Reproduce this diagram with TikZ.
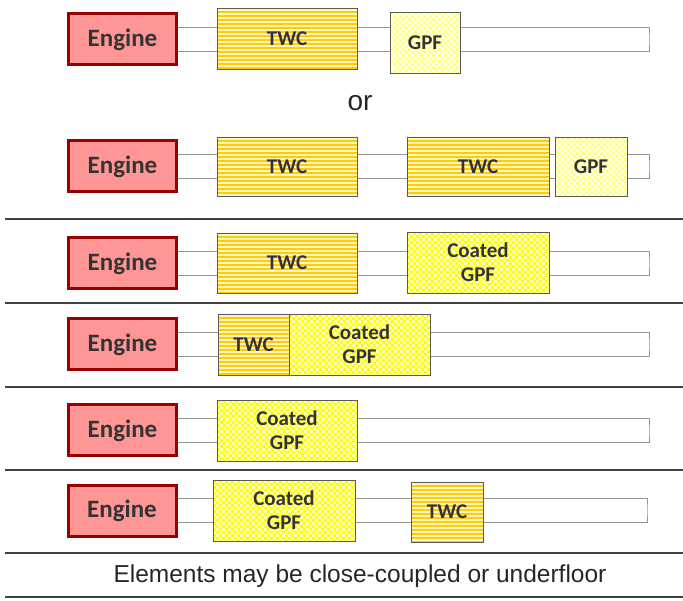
\documentclass[tikz,border=0pt]{standalone}
\usepackage{fontspec}
\setmainfont{Carlito}
\newfontfamily\arialfont{Liberation Sans}
\usetikzlibrary{backgrounds}

\definecolor{engfill}{RGB}{255,150,150}
\definecolor{engline}{RGB}{153,0,0}
\definecolor{twcfill}{RGB}{255,204,0}
\definecolor{twcstripe}{RGB}{255,244,195}
\definecolor{gpfcheck}{RGB}{255,255,140}
\definecolor{gpfbase}{RGB}{255,255,235}
\definecolor{cgpfcheck}{RGB}{255,255,0}
\definecolor{cgpfbase}{RGB}{255,255,185}
\definecolor{boxline}{RGB}{90,90,90}
\definecolor{pipeline}{RGB}{150,150,150}
\definecolor{labeltext}{RGB}{51,51,51}

\begin{document}
\begin{tikzpicture}[x=1pt,y=-1pt,
  every node/.style={inner sep=0pt,outer sep=0pt,align=center,text=labeltext},
  engine/.style={draw=engline,line width=3pt,fill=engfill,minimum width=108pt,minimum height=51pt,
    font=\bfseries\fontsize{25}{28}\selectfont},
  unit/.style={draw=boxline,line width=0.9pt,font=\bfseries\fontsize{21}{24}\selectfont},
  twc/.style={unit,fill=twcfill,path picture={
    \foreach \k in {1,5,...,61}
      \fill[twcstripe] ([yshift=-\k pt]path picture bounding box.north west) rectangle ++(150pt,-1.6pt);}},
  checkbox/.style 2 args={unit,fill=#2,path picture={
    \foreach \i in {0,6,...,144} \foreach \j in {0,6,...,60} {
      \fill[#1] ([xshift=\i pt,yshift=-\j pt]path picture bounding box.north west) rectangle ++(3pt,-3pt);
      \fill[#1] ([xshift=\i pt+3pt,yshift=-\j pt-3pt]path picture bounding box.north west) rectangle ++(3pt,-3pt);}}},
  gpf/.style={checkbox={gpfcheck}{gpfbase}},
  cgpf/.style={checkbox={cgpfcheck}{cgpfbase}},
  pipe/.style={draw=pipeline,line width=1pt},
  sepline/.style={draw=black!75,line width=1.8pt}]
\useasboundingbox (0,0) rectangle (683,601);

% row 1
\node[engine] (eng1) at (122.5,39.5) {Engine};
\node[twc,minimum width=140pt,minimum height=61pt] (twc1) at (287,38.5) {TWC};
\node[gpf,minimum width=70pt,minimum height=61pt] (gpf1) at (425,43) {GPF};
\coordinate (end1) at (649,39.5);
\node[font=\arialfont\fontsize{28}{30}\selectfont,text=black!85] (or) at (360,103) {or};

% row 2
\node[engine] (eng2) at (122.5,166.5) {Engine};
\node[twc,minimum width=140pt,minimum height=59pt] (twc2a) at (287,166.5) {TWC};
\node[twc,minimum width=142pt,minimum height=59pt] (twc2b) at (478,166.5) {TWC};
\node[gpf,minimum width=72pt,minimum height=59pt] (gpf2) at (591,166.5) {GPF};
\coordinate (end2) at (649,166.5);

% row 3
\node[engine] (eng3) at (122.5,263.5) {Engine};
\node[twc,minimum width=140pt,minimum height=60pt] (twc3) at (287,263) {TWC};
\node[cgpf,minimum width=142pt,minimum height=61pt] (cgpf3) at (478,262.5) {Coated\\GPF};
\coordinate (end3) at (649,262.5);

% row 4
\node[engine] (eng4) at (122.5,344.5) {Engine};
\node[twc,minimum width=71pt,minimum height=61pt] (twc4) at (253.5,344.5) {TWC};
\node[cgpf,minimum width=141pt,minimum height=61pt] (cgpf4) at (359.5,344.5) {Coated\\GPF};
\coordinate (end4) at (649,344.5);

% row 5
\node[engine] (eng5) at (122.5,430.5) {Engine};
\node[cgpf,minimum width=140pt,minimum height=61pt] (cgpf5) at (287,430.5) {Coated\\GPF};
\coordinate (end5) at (649,431);

% row 6
\node[engine] (eng6) at (122,510.5) {Engine};
\node[cgpf,minimum width=142pt,minimum height=61pt] (cgpf6) at (284,510.5) {Coated\\GPF};
\node[twc,minimum width=72pt,minimum height=60pt] (twc6) at (447,512) {TWC};
\coordinate (end6) at (647,510.5);

\node[font=\arialfont\fontsize{24.5}{27}\selectfont,text=black!85] (note) at (360,576) {Elements may be close-coupled or underfloor};

\begin{scope}[on background layer]
\foreach \n in {1,...,6}
  \draw[pipe] ([yshift=12pt]eng\n.east) -| (end\n) |- ([yshift=-12pt]eng\n.east);
\end{scope}

\foreach \y in {219,303,387,470,553,597}
  \draw[sepline] (5,\y) -- (683,\y);
\end{tikzpicture}
\end{document}
